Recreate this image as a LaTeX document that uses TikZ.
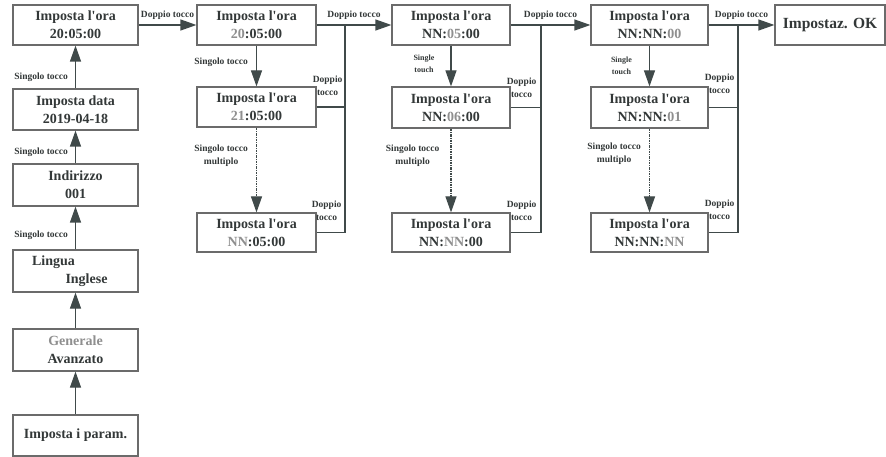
\documentclass[tikz,border=0pt]{standalone}
\usepackage{fontspec}
\setmainfont{Liberation Serif}
\usetikzlibrary{arrows.meta,calc}
\definecolor{BoxClr}{rgb}{0.42,0.42,0.42}
\definecolor{ArrClr}{rgb}{0.25,0.29,0.29}
\definecolor{TxtClr}{rgb}{0.2,0.22,0.22}
\definecolor{DimClr}{rgb}{0.56,0.56,0.56}
\newcommand{\faded}[1]{\textcolor{DimClr}{#1}}
\newcommand{\ora}{Imposta l\textquotesingle ora}

\tikzset{
  box/.style={draw=BoxClr,line width=1.2pt,fill=white,text=TxtClr,align=center,
    inner sep=0pt,minimum height=40pt,font=\fontsize{14}{18}\selectfont\bfseries},
  tag/.style={text=TxtClr,align=center,inner sep=1pt,font=\fontsize{9.5}{13}\selectfont\bfseries},
  small tag/.style={tag,font=\fontsize{8}{12}\selectfont\bfseries},
  go/.style={draw=ArrClr,line width=1.2pt,-{Triangle[length=16pt,width=11pt]}},
  link/.style={draw=ArrClr,line width=1.2pt},
  multi/.style={dash pattern=on 2.5pt off 1pt on 1pt off 1pt}
}

\begin{document}
\begin{tikzpicture}[x=1pt,y=-1pt]
\useasboundingbox (0,0) rectangle (886,457);

\node[box,minimum width=125pt] (hr) at (75.5,25) {\ora\\20:05:00};
\node[box,minimum width=125pt,minimum height=41pt] (date) at (75.5,109.5) {Imposta data\\2019-04-18};
\node[box,minimum width=125pt,minimum height=42pt] (addr) at (75.5,185) {Indirizzo\\001};
\node[box,minimum width=125pt,minimum height=42pt] (lang) at (75.5,271) {Lingua\hspace*{44pt}\\\hspace*{22pt}Inglese};
\node[box,minimum width=125pt,minimum height=42pt] (mode) at (75.5,350) {\faded{Generale}\\Avanzato};
\node[box,minimum width=125pt,minimum height=41pt] (param) at (75.5,435.5) {Imposta i param.};

\node[box,minimum width=119pt] (hA1) at (256.5,25) {\ora\\\faded{20}:05:00};
\node[box,minimum width=119pt] (hA2) at (256.5,107) {\ora\\\faded{21}:05:00};
\node[box,minimum width=119pt,minimum height=39pt] (hA3) at (256.5,232.5) {\ora\\\faded{NN}:05:00};

\node[box,minimum width=118pt] (mB1) at (451,25) {\ora\\NN:\faded{05}:00};
\node[box,minimum width=118pt,minimum height=41pt] (mB2) at (451,107.5) {\ora\\NN:\faded{06}:00};
\node[box,minimum width=118pt,minimum height=39pt] (mB3) at (451,232.5) {\ora\\NN:\faded{NN}:00};

\node[box,minimum width=117pt] (sC1) at (649.5,25) {\ora\\NN:NN:\faded{00}};
\node[box,minimum width=117pt,minimum height=41pt] (sC2) at (649.5,107.5) {\ora\\NN:NN:\faded{01}};
\node[box,minimum width=117pt,minimum height=39pt] (sC3) at (649.5,232.5) {\ora\\NN:NN:\faded{NN}};

\node[box,minimum width=110pt,font=\fontsize{15.5}{18}\selectfont\bfseries] (ok) at (830,25) {Impostaz. OK};

\coordinate (j2) at (345,25);
\coordinate (j3) at (541,25);
\coordinate (j4) at (738,25);

\draw[go] (param) -- (mode);
\draw[go] (mode) -- (lang);
\draw[go] (lang) -- (addr) node[tag,pos=.32,anchor=east,xshift=-6pt]{Singolo tocco};
\draw[go] (addr) -- (date) node[tag,pos=.35,anchor=east,xshift=-6pt]{Singolo tocco};
\draw[go] (date) -- (hr) node[tag,pos=.27,anchor=east,xshift=-6pt]{Singolo tocco};

\draw[go] (hr) -- (hA1) node[tag,midway,above=4pt]{Doppio tocco};
\draw[go] (hA1) -- (mB1) node[tag,midway,above=4pt]{Doppio tocco};
\draw[go] (mB1) -- (sC1) node[tag,midway,above=4pt]{Doppio tocco};
\draw[go] (sC1) -- (ok) node[tag,midway,above=4pt]{Doppio tocco};

\draw[go] (hA1) -- (hA2) node[tag,pos=.4,anchor=east,xshift=-7pt]{Singolo tocco};
\draw[go,multi] (hA2) -- (hA3) node[tag,pos=.33,anchor=east,xshift=-7pt]{Singolo tocco\\multiplo};
\draw[go] (mB1) -- (mB2) node[small tag,pos=.45,anchor=east,xshift=-15pt]{Single\\touch};
\draw[go,multi] (mB2) -- (mB3) node[tag,pos=.32,anchor=east,xshift=-10pt]{Singolo tocco\\multiplo};
\draw[go] (sC1) -- (sC2) node[small tag,pos=.5,anchor=east,xshift=-16pt]{Single\\touch};
\draw[go,multi] (sC2) -- (sC3) node[tag,pos=.3,anchor=east,xshift=-7pt]{Singolo tocco\\multiplo};

\draw[link] (hA2.east) -- (hA2.east -| j2) node[tag,anchor=south east,xshift=-1pt,yshift=10pt]{Doppio\\tocco};
\draw[link] (hA3.east) -| (j2) node[tag,pos=.5,anchor=south east,xshift=-2pt,yshift=10pt]{Doppio\\tocco};
\draw[link] (mB2.east) -- (mB2.east -| j3) node[tag,anchor=south east,xshift=-3pt,yshift=8pt]{Doppio\\tocco};
\draw[link] (mB3.east) -| (j3) node[tag,pos=.5,anchor=south east,xshift=-3pt,yshift=10pt]{Doppio\\tocco};
\draw[link] (sC2.east) -- (sC2.east -| j4) node[tag,anchor=south east,xshift=-2pt,yshift=12pt]{Doppio\\tocco};
\draw[link] (sC3.east) -| (j4) node[tag,pos=.5,anchor=south east,xshift=-2pt,yshift=11pt]{Doppio\\tocco};

\end{tikzpicture}
\end{document}
